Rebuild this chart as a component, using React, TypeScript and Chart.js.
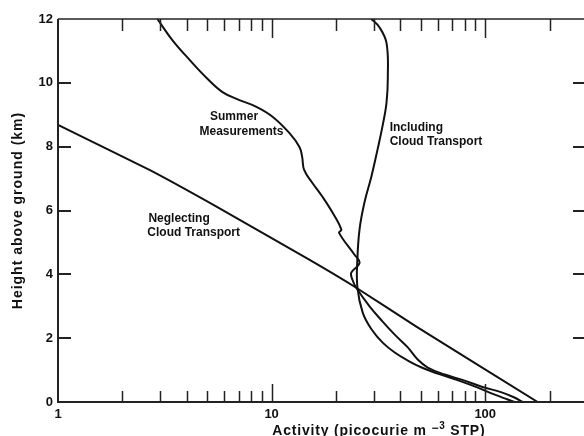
import React, { useEffect, useRef } from "react";
import { Chart, registerables } from "chart.js";

Chart.register(...registerables);

// ---- data (activity in pCi m^-3 STP, height in km) ----
const neglectActivity = [1, 2.68, 5.52, 15.0, 24.9, 47.6, 176];
const neglectHeight = [8.68, 7.27, 6.12, 4.46, 3.58, 2.36, 0];

const summerActivity = [
  2.92, 3.43, 4.13, 4.95, 5.89, 7.07, 8.49, 10.1, 12.1, 13.5, 13.9, 14.2, 15.5, 17.3, 19.3, 21.2, 20.7,
  24.4, 25.8, 23.6, 23.9, 24.9, 28.8, 33.1, 37.7, 43.4, 48.3, 53.8, 64.6, 77.6, 96.3, 119.4, 137, 150,
];
const summerHeight = [
  12, 11.34, 10.72, 10.16, 9.71, 9.46, 9.25, 8.94, 8.43, 7.99, 7.68, 7.27, 6.87, 6.43, 5.93, 5.4, 5.3,
  4.62, 4.36, 4.05, 3.83, 3.58, 2.99, 2.52, 2.11, 1.71, 1.33, 1.08, 0.86, 0.7, 0.48, 0.3, 0.14, 0,
];

const includingActivity = [
  29.3, 31.9, 34.5, 35.0, 34.5, 33.0, 31.3, 29.3, 27.2, 25.8, 25.2, 25.2, 26.7, 29.4, 33.1, 37.7, 43.4,
  50.4, 59.9, 77.6, 92.2, 110.8, 127.4, 137,
];
const includingHeight = [
  12, 11.75, 11.25, 10.18, 9.37, 8.62, 7.9, 7.06, 6.25, 5.41, 4.46, 3.61, 2.8, 2.27, 1.86, 1.55, 1.3,
  1.08, 0.89, 0.64, 0.45, 0.23, 0.08, 0,
];

// ---- axes ----
const xMin = 1;
const xMax = 290;
const xLabelTicks = [1, 10, 100];
const xMinorTicks = [2, 3, 4, 5, 6, 7, 8, 9, 20, 30, 40, 50, 60, 70, 80, 90, 200];
const xMajorTicks = [10, 100];
const yMin = 0;
const yMax = 12;
const yInnerTicks = [2, 4, 6, 8, 10];

// ---- curve labels (in data coordinates) ----
const curveLabels = [
  { text: "Summer", x: 6.67, y: 8.93, align: "center" },
  { text: "Measurements", x: 7.23, y: 8.46, align: "center" },
  { text: "Including", x: 35.7, y: 8.59, align: "left" },
  { text: "Cloud Transport", x: 35.7, y: 8.15, align: "left" },
  { text: "Neglecting", x: 2.65, y: 5.74, align: "left" },
  { text: "Cloud Transport", x: 2.62, y: 5.3, align: "left" },
];

const FONT = "'Liberation Sans', Arial, Helvetica, sans-serif";
const INK = "#111";

const zip = (xs: number[], ys: number[]) => xs.map((x, i) => ({ x, y: ys[i] }));

const framePlugin = {
  id: "frame",
  afterDatasetsDraw(chart: any) {
    const { ctx, chartArea, scales } = chart;
    const { left, right, top, bottom } = chartArea;
    const xs = scales.x;
    const ys = scales.y;
    ctx.save();
    ctx.strokeStyle = "#222";
    ctx.lineCap = "butt";
    // frame lines
    ctx.lineWidth = 2;
    ctx.beginPath();
    ctx.moveTo(left, top);
    ctx.lineTo(left, bottom);
    ctx.lineTo(right, bottom);
    ctx.stroke();
    ctx.lineWidth = 1.5;
    ctx.beginPath();
    ctx.moveTo(left, top);
    ctx.lineTo(right, top);
    ctx.stroke();
    // x ticks (inward, top and bottom)
    ctx.lineWidth = 1.5;
    const allX = [...xMinorTicks, ...xMajorTicks];
    allX.forEach((v) => {
      const px = Math.round(xs.getPixelForValue(v)) + 0.5;
      const major = xMajorTicks.includes(v);
      ctx.beginPath();
      ctx.moveTo(px, bottom);
      ctx.lineTo(px, bottom - (major ? 18 : 11));
      ctx.moveTo(px, top);
      ctx.lineTo(px, top + (major ? 19 : 12));
      ctx.stroke();
    });
    // y ticks (inward, left and right)
    ctx.lineWidth = 2;
    yInnerTicks.forEach((v) => {
      const py = Math.round(ys.getPixelForValue(v));
      ctx.beginPath();
      ctx.moveTo(left, py);
      ctx.lineTo(left + 13, py);
      ctx.moveTo(right, py);
      ctx.lineTo(right - 11, py);
      ctx.stroke();
    });

    // x tick labels
    ctx.fillStyle = INK;
    ctx.font = `bold 13px ${FONT}`;
    ctx.textAlign = "center";
    ctx.textBaseline = "top";
    xLabelTicks.forEach((v) => {
      ctx.fillText(String(v), xs.getPixelForValue(v), bottom + 6);
    });

    // curve labels
    ctx.font = `bold 12px ${FONT}`;
    ctx.textBaseline = "middle";
    curveLabels.forEach((l) => {
      ctx.textAlign = l.align as CanvasTextAlign;
      ctx.fillText(l.text, xs.getPixelForValue(l.x), ys.getPixelForValue(l.y));
    });

    // y-axis title
    ctx.save();
    ctx.font = `bold 14px ${FONT}`;
    (ctx as any).letterSpacing = "1px";
    ctx.textAlign = "center";
    ctx.textBaseline = "middle";
    ctx.translate(18, (top + bottom) / 2);
    ctx.rotate(-Math.PI / 2);
    ctx.fillText("Height above ground (km)", 0, 0);
    ctx.restore();

    // x-axis title with superscript
    ctx.save();
    (ctx as any).letterSpacing = "0.8px";
    ctx.textAlign = "left";
    ctx.textBaseline = "middle";
    const partA = "Activity (picocurie m ";
    const partMinus = "\u2212";
    const partSup = "3";
    const partB = " STP)";
    const big = `bold 14px ${FONT}`;
    const mid = `bold 12px ${FONT}`;
    const small = `bold 10px ${FONT}`;
    ctx.font = big;
    const wA = ctx.measureText(partA).width;
    const wB = ctx.measureText(partB).width;
    ctx.font = mid;
    const wM = ctx.measureText(partMinus).width;
    ctx.font = small;
    const wS = ctx.measureText(partSup).width;
    const total = wA + wM + wS + wB;
    const cx = left + (right - left) * 0.61;
    const ty = 431;
    let tx = cx - total / 2;
    ctx.font = big;
    ctx.fillText(partA, tx, ty);
    tx += wA;
    ctx.font = mid;
    ctx.fillText(partMinus, tx, ty - 2);
    tx += wM;
    ctx.font = small;
    ctx.fillText(partSup, tx, ty - 5);
    tx += wS;
    ctx.font = big;
    ctx.fillText(partB, tx, ty);
    ctx.restore();

    ctx.restore();
  },
};

export default function App() {
  const ref = useRef<HTMLCanvasElement | null>(null);
  useEffect(() => {
    if (!ref.current) return;
    const lineStyle = {
      borderColor: INK,
      borderWidth: 2,
      pointRadius: 0,
      fill: false,
      tension: 0.4,
    };
    const chart = new Chart(ref.current, {
      type: "line",
      data: {
        datasets: [
          { label: "Neglecting Cloud Transport", data: zip(neglectActivity, neglectHeight), ...lineStyle, tension: 0.15 },
          { label: "Summer Measurements", data: zip(summerActivity, summerHeight), ...lineStyle },
          { label: "Including Cloud Transport", data: zip(includingActivity, includingHeight), ...lineStyle },
        ],
      },
      options: {
        responsive: false,
        animation: false,
        devicePixelRatio: 1,
        layout: { padding: { top: 19, right: 0, left: 0, bottom: 34 } },
        plugins: { legend: { display: false }, tooltip: { enabled: false } },
        scales: {
          x: {
            type: "logarithmic",
            display: false,
            min: xMin,
            max: xMax,
            grid: { display: false, drawTicks: false },
            border: { display: false },
            ticks: { display: false },
          },
          y: {
            type: "linear",
            min: yMin,
            max: yMax,
            grid: { display: false, drawTicks: false },
            border: { display: false },
            afterFit: (scale: any) => {
              scale.width = 58;
            },
            ticks: {
              stepSize: 2,
              padding: 5,
              color: INK,
              font: { family: FONT, size: 13, weight: "bold" },
            },
          },
        },
      },
      plugins: [framePlugin],
    });
    return () => chart.destroy();
  }, []);
  return (
    <div style={{ position: "absolute", left: 0, top: 0, width: 584, height: 436, background: "#fff" }}>
      <canvas ref={ref} width={584} height={436} style={{ width: 584, height: 436, display: "block" }} />
    </div>
  );
}
